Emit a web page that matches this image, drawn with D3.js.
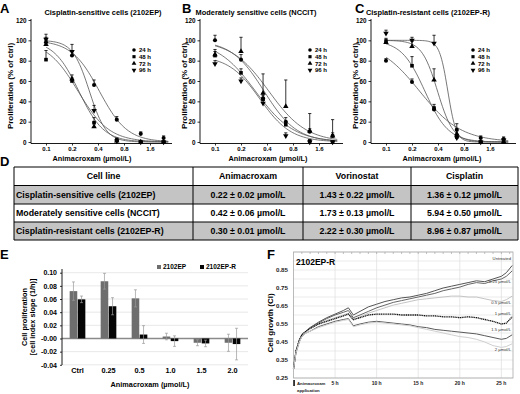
<!DOCTYPE html>
<html><head><meta charset="utf-8">
<script src="https://cdn.jsdelivr.net/npm/d3@7"></script>
<style>
body{margin:0;background:#fff;}
svg{display:block;font-family:"Liberation Sans",Arial,sans-serif;font-weight:bold;}
</style></head><body>
<svg id="chart" width="520" height="394"></svg>
<script>
// ---------------- DATA ----------------
// Panels A-C : dose-response (Animacroxam, µmol/L)
const doses = [0.1, 0.2, 0.36, 0.66, 1.25, 2.3];
const timeLabels = ["24 h", "48 h", "72 h", "96 h"];
const doseTicks = [0.1, 0.2, 0.4, 0.8, 1.6];
const profTicks = [0, 20, 40, 60, 80, 100, 120];

const aTitle = "Cisplatin-sensitive cells (2102EP)";
const a24 = [98, 85, 56, 22, 8, 4],   a24err = [5, 4, 5, 3, 2, 2];
const a48 = [81, 60, 19, 2, 0, 0],    a48err = [9, 3, 5, 2, 0, 0];
const a72 = [96, 62, 15, 1, 0, 0],    a72err = [4, 4, 4, 1, 0, 0];
const a96 = [101, 89, 31, 1, 0, 0],   a96err = [5, 7, 5, 1, 0, 0];
const aIC50 = [0.415, 0.235, 0.24, 0.318], aHill = [2.7, 2.4, 3.0, 4.5], aTop = [100, 100, 100, 100];

const bTitle = "Moderately sensitive cells (NCCIT)";
const b24 = [100, 81, 43, 20, 10, 6], b24err = [5, 5, 5, 4, 3, 3];
const b48 = [85, 68, 42, 17, 1, 0],   b48err = [4, 4, 4, 3, 1, 0];
const b72 = [86, 89, 48, 35, 11, 6],  b72err = [5, 14, 19, 26, 17, 16];
const b96 = [77, 60, 38, 6, 0, 0],    b96err = [3, 3, 3, 3, 1, 0];
const bIC50 = [0.37, 0.294, 0.42, 0.33], bHill = [2.3, 1.96, 2.0, 2.4], bTop = [100, 100, 100, 85];

const cTitle = "Cisplatin-resistant cells (2102EP-R)";
const c24 = [80, 59, 32, 12, 4, 3],   c24err = [2, 3, 3, 6, 2, 2];
const c48 = [99, 75, 33, 5, 0, 0],    c48err = [3, 9, 4, 2, 0, 0];
const c72 = [98, 94, 61, 8, 0, 0],    c72err = [3, 5, 11, 3, 0, 0];
const c96 = [107, 100, 97, 4, 0, 2],  c96err = [3, 3, 8, 2, 0, 1];
const cIC50 = [0.245, 0.282, 0.395, 0.52], cHill = [1.8, 3.2, 4.77, 9], cTop = [100, 100, 100, 100];

// Panel D : IC50 table
const tableHeader = ["Cell line", "Animacroxam", "Vorinostat", "Cisplatin"];
const tableCells = ["Cisplatin-sensitive cells (2102EP)", "Moderately sensitive cells (NCCIT)", "Cisplatin-resistant cells (2102EP-R)"];
const tableAnimacroxam = ["0.22 ± 0.02 µmol/L", "0.42 ± 0.06 µmol/L", "0.30 ± 0.01 µmol/L"];
const tableVorinostat = ["1.43 ± 0.22 µmol/L", "1.73 ± 0.13 µmol/L", "2.22 ± 0.30 µmol/L"];
const tableCisplatin = ["1.36 ± 0.12 µmol/L", "5.94 ± 0.50 µmol/L", "8.96 ± 0.87 µmol/L"];

// Panel E : proliferation slopes
const eCats = ["Ctrl", "0.25", "0.5", "1.0", "1.5", "2.0"];
const eSeriesNames = ["2102EP", "2102EP-R"];
const e2102EP = [0.072, 0.087, 0.061, 0.003, -0.0065, -0.0065];
const e2102EPerr = [0.014, 0.012, 0.013, 0.005, 0.0045, 0.013];
const e2102EPR = [0.0595, 0.049, 0.006, -0.004, -0.0075, -0.0085];
const e2102EPRerr = [0.005, 0.013, 0.0135, 0.008, 0.005, 0.024];
const eTicks = [-0.04, -0.02, 0, 0.02, 0.04, 0.06, 0.08, 0.10];
const eTickLabels = ["-0.04", "-0.02", "-0.00", "0.02", "0.04", "0.06", "0.08", "0.10"];

// Panel F : real-time cell growth (2102EP-R)
const fTimes = [0,0.3,0.7,1,1.5,2,3,4,5,6,6.6,7.2,8,9,10,11,12,13,14,15,16,17,18,19,20,21,22,23,24,25,25.6,26.3];
const fUntreated = [0.30,0.40,0.46,0.49,0.51,0.53,0.56,0.585,0.605,0.625,0.64,0.60,0.62,0.645,0.66,0.675,0.685,0.695,0.70,0.71,0.72,0.735,0.75,0.76,0.77,0.78,0.79,0.785,0.80,0.815,0.835,0.875];
const f025 = [0.30,0.40,0.46,0.49,0.51,0.53,0.555,0.58,0.60,0.615,0.625,0.585,0.60,0.62,0.64,0.655,0.67,0.68,0.69,0.70,0.71,0.72,0.735,0.745,0.755,0.77,0.78,0.775,0.79,0.80,0.815,0.845];
const f05 = [0.30,0.40,0.46,0.49,0.51,0.525,0.55,0.57,0.585,0.60,0.61,0.57,0.59,0.61,0.625,0.64,0.655,0.665,0.675,0.685,0.69,0.695,0.70,0.705,0.705,0.70,0.70,0.69,0.68,0.675,0.685,0.705];
const f1 = [0.30,0.40,0.46,0.49,0.51,0.525,0.55,0.565,0.58,0.595,0.605,0.575,0.585,0.60,0.605,0.605,0.605,0.60,0.60,0.60,0.595,0.595,0.59,0.59,0.585,0.59,0.585,0.575,0.565,0.55,0.555,0.59];
const f15 = [0.30,0.39,0.45,0.48,0.50,0.51,0.535,0.55,0.565,0.575,0.58,0.54,0.55,0.56,0.565,0.56,0.555,0.55,0.545,0.535,0.53,0.52,0.515,0.51,0.505,0.50,0.495,0.485,0.475,0.465,0.47,0.49];
const f2 = [0.30,0.39,0.45,0.48,0.50,0.51,0.53,0.545,0.56,0.57,0.575,0.535,0.545,0.555,0.56,0.555,0.55,0.545,0.54,0.53,0.52,0.51,0.50,0.49,0.48,0.475,0.465,0.45,0.43,0.42,0.425,0.44];
const fLabels = ["Untreated", "0.25 µmol/L", "0.5 µmol/L", "1 µmol/L", "1.5 µmol/L", "2 µmol/L"];
const fLabelValues = [0.905, 0.78, 0.66, 0.60, 0.51, 0.40];
const fYTicks = [0.25, 0.35, 0.45, 0.55, 0.65, 0.75, 0.85];
const fXTicks = [5, 10, 15, 20, 25];

// ---------------- DRAW ----------------
const svg = d3.select("#chart");

function styleAxis(g, fs) {
  g.attr("font-family", null).attr("font-size", fs).attr("font-weight", "bold");
  g.select(".domain").remove();
  g.selectAll(".tick line").attr("stroke", "#000").attr("stroke-width", 0.8);
  g.selectAll(".tick text").attr("fill", "#000");
}

const symbolTypes = [d3.symbolCircle, d3.symbolSquare, d3.symbolTriangle, d3.symbolTriangle];
const symbolRot = [0, 0, 0, 180];

const panels = [
  {letter: "A", lx: 0, title: aTitle, tx: 103, x0: 31, x1: 172, legX: 134, yLabX: 10,
   means: [a24, a48, a72, a96], errs: [a24err, a48err, a72err, a96err], ic50: aIC50, hill: aHill, top: aTop, xtX: 92},
  {letter: "B", lx: 182, title: bTitle, tx: 256, x0: 200, x1: 343, legX: 310, yLabX: 184,
   means: [b24, b48, b72, b96], errs: [b24err, b48err, b72err, b96err], ic50: bIC50, hill: bHill, top: bTop, xtX: 268},
  {letter: "C", lx: 355, title: cTitle, tx: 428, x0: 371, x1: 516, legX: 473, yLabX: 355,
   means: [c24, c48, c72, c96], errs: [c24err, c48err, c72err, c96err], ic50: cIC50, hill: cHill, top: cTop, xtX: 442}
];

panels.forEach(p => {
  const g = svg.append("g");
  const x = d3.scaleLog().base(2).domain([doseTicks[0], doseTicks[doseTicks.length - 1]]).range([p.x0 + 15, p.x0 + 119]);
  const y = d3.scaleLinear().domain([0, 120]).range([142, 20]);

  g.append("text").attr("x", p.lx).attr("y", 13).attr("font-size", 13).text(p.letter);
  g.append("text").attr("x", p.tx).attr("y", 15).attr("text-anchor", "middle").attr("font-size", 7.4).text(p.title);

  // axes
  g.append("line").attr("x1", p.x0).attr("x2", p.x0).attr("y1", 19).attr("y2", 143.5).attr("stroke", "#000").attr("stroke-width", 0.9);
  g.append("line").attr("x1", p.x0).attr("x2", p.x1).attr("y1", 143.5).attr("y2", 143.5).attr("stroke", "#000").attr("stroke-width", 0.9);
  g.append("g").attr("transform", `translate(${p.x0},0)`)
    .call(d3.axisLeft(y).tickValues(profTicks).tickSize(2.5).tickPadding(2))
    .call(s => styleAxis(s, 6.3));
  g.append("g").attr("transform", `translate(0,143.5)`)
    .call(d3.axisBottom(x).tickValues(doseTicks).tickFormat(d => d).tickSize(2).tickPadding(1.5))
    .call(s => styleAxis(s, 6));

  g.append("text").attr("transform", `translate(${p.yLabX},86) rotate(-90)`).attr("text-anchor", "middle")
    .attr("dy", "0.35em").attr("font-size", 8).text("Proliferation (% of ctrl)");
  g.append("text").attr("x", p.xtX).attr("y", 160.5).attr("text-anchor", "middle").attr("font-size", 7.3).text("Animacroxam (µmol/L)");

  // fitted curves (4-parameter logistic, parameters)
  const xs = d3.range(0, 81).map(i => Math.exp(Math.log(0.1) + i / 80 * (Math.log(2.6) - Math.log(0.1))));
  p.means.forEach((m, k) => {
    const fit = xs.map(v => [v, p.top[k] / (1 + Math.pow(v / p.ic50[k], p.hill[k]))]);
    g.append("path").datum(fit)
      .attr("d", d3.line().x(d => x(d[0])).y(d => y(d[1])).curve(d3.curveBasis))
      .attr("fill", "none").attr("stroke", "#555").attr("stroke-width", 0.8);
  });
  // error bars + points
  p.means.forEach((m, k) => {
    m.forEach((v, i) => {
      const e = p.errs[k][i];
      if (e > 0) {
        g.append("line").attr("x1", x(doses[i])).attr("x2", x(doses[i])).attr("y1", y(v)).attr("y2", y(v + e))
          .attr("stroke", "#000").attr("stroke-width", 0.8);
        g.append("line").attr("x1", x(doses[i]) - 1.6).attr("x2", x(doses[i]) + 1.6).attr("y1", y(v + e)).attr("y2", y(v + e))
          .attr("stroke", "#000").attr("stroke-width", 0.8);
      }
      g.append("path").attr("d", d3.symbol(symbolTypes[k], 13)())
        .attr("transform", `translate(${x(doses[i])},${y(v)}) rotate(${symbolRot[k]})`).attr("fill", "#000");
    });
  });
  // legend
  timeLabels.forEach((t, k) => {
    const ly = 50 + k * 6.7;
    g.append("path").attr("d", d3.symbol(symbolTypes[k], 10)())
      .attr("transform", `translate(${p.legX},${ly}) rotate(${symbolRot[k]})`).attr("fill", "#000");
    g.append("text").attr("x", p.legX + 5).attr("y", ly).attr("dy", "0.35em").attr("font-size", 6).text(t);
  });
});

// ---------- Panel D (table) ----------
(function () {
  const g = svg.append("g");
  g.append("text").attr("x", 0).attr("y", 166).attr("font-size", 13).text("D");
  const colX = [14, 193, 303, 411, 518];
  const rowY = [167, 185.5, 204, 222, 240];
  const rows = [tableHeader].concat(tableCells.map((c, i) => [c, tableAnimacroxam[i], tableVorinostat[i], tableCisplatin[i]]));
  rows.forEach((r, ri) => {
    g.append("rect").attr("x", colX[0]).attr("y", rowY[ri]).attr("width", colX[4] - colX[0]).attr("height", rowY[ri + 1] - rowY[ri])
      .attr("fill", (ri === 1 || ri === 3) ? "#c4c4c4" : "#fff");
    r.forEach((txt, ci) => {
      const left = ci === 0 && ri > 0;
      g.append("text")
        .attr("x", left ? colX[0] + 2 : (colX[ci] + colX[ci + 1]) / 2)
        .attr("y", (rowY[ri] + rowY[ri + 1]) / 2).attr("dy", "0.36em")
        .attr("text-anchor", left ? "start" : "middle").attr("font-size", 8.8).text(txt);
    });
  });
  rowY.forEach(yy => g.append("line").attr("x1", colX[0]).attr("x2", colX[4]).attr("y1", yy).attr("y2", yy).attr("stroke", "#000").attr("stroke-width", 1));
  colX.forEach(xx => g.append("line").attr("x1", xx).attr("x2", xx).attr("y1", rowY[0]).attr("y2", rowY[4]).attr("stroke", "#000").attr("stroke-width", 1));
})();

// ---------- Panel E (bars) ----------
(function () {
  const g = svg.append("g");
  g.append("text").attr("x", 0).attr("y", 259).attr("font-size", 13).text("E");
  const x = d3.scaleBand().domain(eCats).range([62, 248]);
  const xs = d3.scaleBand().domain(eSeriesNames).range([0, x.bandwidth()]).paddingInner(0.06).paddingOuter(0.95);
  const y = d3.scaleLinear().domain([-0.04, 0.10]).range([364.8, 272.7]);
  const colors = ["#6e6e6e", "#050505"];
  const vals = [e2102EP, e2102EPR], errs = [e2102EPerr, e2102EPRerr];

  eTicks.forEach(t => g.append("line").attr("x1", 62).attr("x2", 248).attr("y1", y(t)).attr("y2", y(t))
    .attr("stroke", t === 0 ? "#8a8a8a" : "#e2e2e2").attr("stroke-width", t === 0 ? 1.3 : 0.8));
  g.append("line").attr("x1", 62).attr("x2", 62).attr("y1", 269).attr("y2", 365).attr("stroke", "#000").attr("stroke-width", 0.9);
  g.append("g").attr("transform", "translate(62,0)")
    .call(d3.axisLeft(y).tickValues(eTicks).tickFormat((d, i) => eTickLabels[i]).tickSize(2).tickPadding(3))
    .call(s => styleAxis(s, 7));

  vals.forEach((arr, s) => {
    arr.forEach((v, i) => {
      const bx = x(eCats[i]) + xs(eSeriesNames[s]);
      const bw = xs.bandwidth();
      g.append("rect").attr("x", bx).attr("width", bw).attr("y", Math.min(y(v), y(0))).attr("height", Math.abs(y(v) - y(0)))
        .attr("fill", colors[s]);
      const cx = bx + bw / 2, e = errs[s][i];
      g.append("line").attr("x1", cx).attr("x2", cx).attr("y1", y(v - e)).attr("y2", y(v + e)).attr("stroke", "#999").attr("stroke-width", 0.7);
      [v - e, v + e].forEach(c => g.append("line").attr("x1", cx - 1.5).attr("x2", cx + 1.5).attr("y1", y(c)).attr("y2", y(c)).attr("stroke", "#999").attr("stroke-width", 0.7));
    });
  });
  eCats.forEach(c => g.append("text").attr("x", x(c) + x.bandwidth() / 2).attr("y", 373).attr("text-anchor", "middle").attr("font-size", 7.3).text(c));
  g.append("text").attr("x", 150).attr("y", 387).attr("text-anchor", "middle").attr("font-size", 7.3).text("Animacroxam (µmol/L)");
  g.append("text").attr("transform", "translate(27,317) rotate(-90)").attr("text-anchor", "middle").attr("font-size", 7.3).text("Cell proliferation");
  g.append("text").attr("transform", "translate(35,317) rotate(-90)").attr("text-anchor", "middle").attr("font-size", 7.3).text("[cell index slope (1/h)]");
  // legend
  const legX = [157, 200];
  eSeriesNames.forEach((n, s) => {
    g.append("rect").attr("x", legX[s]).attr("y", 265).attr("width", 4).attr("height", 4).attr("fill", colors[s]);
    g.append("text").attr("x", legX[s] + 6).attr("y", 267).attr("dy", "0.35em").attr("font-size", 6.5).text(n);
  });
})();

// ---------- Panel F (real-time growth) ----------
(function () {
  const g = svg.append("g");
  g.append("text").attr("x", 267).attr("y", 259).attr("font-size", 13).text("F");
  const x = d3.scaleLinear().domain([0, 26.4]).range([293.5, 513]);
  const y = d3.scaleLinear().domain([0.25, 0.95]).range([378, 252]);
  d3.range(0.25, 0.951, 0.05).forEach(v => g.append("line").attr("x1", 293.5).attr("x2", 513).attr("y1", y(v)).attr("y2", y(v)).attr("stroke", "#e3e3e3").attr("stroke-width", 0.7));
  fXTicks.forEach(t => g.append("line").attr("x1", x(t)).attr("x2", x(t)).attr("y1", 252).attr("y2", 378).attr("stroke", "#dcdcdc").attr("stroke-width", 0.7));
  d3.range(1, 27).forEach(t => g.append("line").attr("x1", x(t)).attr("x2", x(t)).attr("y1", 252).attr("y2", 254).attr("stroke", "#999").attr("stroke-width", 0.6));
  g.append("rect").attr("x", 293.5).attr("y", 252).attr("width", 513 - 293.5).attr("height", 378 - 252).attr("fill", "none").attr("stroke", "#aaa").attr("stroke-width", 0.8);

  const series = [fUntreated, f025, f05, f1, f15, f2];
  const colors = ["#555", "#666", "#c4c4c4", "#111", "#5a5a5a", "#cfcfcf"];
  const dash = [null, null, null, "1.2,0.6", null, null];
  const line = d3.line().x((d, i) => x(fTimes[i])).y(d => y(d));
  series.forEach((s, k) => g.append("path").datum(s).attr("d", line).attr("fill", "none")
    .attr("stroke", colors[k]).attr("stroke-width", k === 3 ? 1.3 : 1).attr("stroke-dasharray", dash[k]));
  fLabels.forEach((l, k) => g.append("text").attr("x", 511).attr("y", y(fLabelValues[k])).attr("text-anchor", "end")
    .attr("font-size", 4.2).attr("font-weight", "normal").attr("fill", "#333").text(l));

  fYTicks.forEach(v => g.append("text").attr("x", 288).attr("y", y(v)).attr("dy", "0.35em").attr("text-anchor", "end").attr("font-size", 6.2).attr("fill", "#222").text(v.toFixed(2)));
  fXTicks.forEach(t => g.append("text").attr("x", x(t)).attr("y", 385).attr("text-anchor", "middle").attr("font-size", 5).attr("fill", "#222").text(t + " h"));
  g.append("text").attr("x", 296).attr("y", 265).attr("font-size", 8.5).text("2102EP-R");
  g.append("text").attr("transform", "translate(270,323) rotate(-90)").attr("text-anchor", "middle").attr("dy", "0.35em").attr("font-size", 8).text("Cell growth (CI)");
  g.append("rect").attr("x", x(0) - 0.2).attr("y", 380).attr("width", 1.5).attr("height", 6).attr("fill", "#000");
  g.append("text").attr("x", 297).attr("y", 385).attr("font-size", 4.3).attr("fill", "#222").text("Animacroxam");
  g.append("text").attr("x", 297).attr("y", 391.5).attr("font-size", 4.3).attr("fill", "#222").text("application");
})();
</script>
</body></html>
